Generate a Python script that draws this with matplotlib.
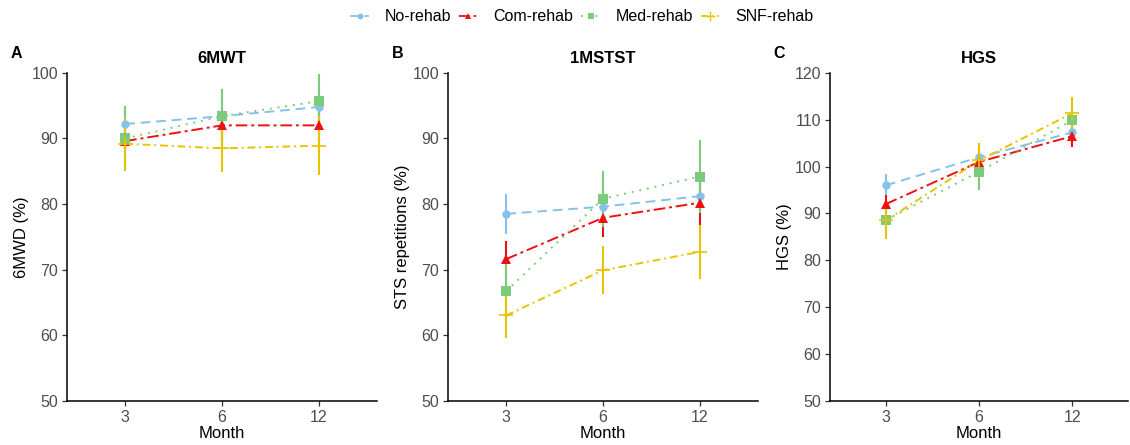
import matplotlib
matplotlib.use("Agg")
import matplotlib.pyplot as plt
from matplotlib.lines import Line2D

months = ["3", "6", "12"]
groups = ["No-rehab", "Com-rehab", "Med-rehab", "SNF-rehab"]
panel_letters = ["A", "B", "C"]
panel_titles = ["6MWT", "1MSTST", "HGS"]
y_labels = ["6MWD (%)", "STS repetitions (%)", "HGS (%)"]

# Means per panel, per group (months 3, 6, 12)
mwt_mean = {
    "No-rehab": [92.2, 93.4, 94.8],
    "Com-rehab": [89.6, 92.0, 92.0],
    "Med-rehab": [90.0, 93.4, 95.7],
    "SNF-rehab": [89.2, 88.5, 88.9],
}
mwt_err = {
    "No-rehab": [2.5, 2.5, 2.5],
    "Com-rehab": [2.2, 2.3, 2.3],
    "Med-rehab": [5.0, 4.2, 4.2],
    "SNF-rehab": [4.0, 3.6, 4.5],
}
sts_mean = {
    "No-rehab": [78.5, 79.6, 81.2],
    "Com-rehab": [71.6, 77.9, 80.2],
    "Med-rehab": [66.7, 80.8, 84.2],
    "SNF-rehab": [63.0, 69.9, 72.7],
}
sts_err = {
    "No-rehab": [3.0, 2.8, 2.6],
    "Com-rehab": [2.7, 2.9, 3.4],
    "Med-rehab": [4.5, 4.3, 5.5],
    "SNF-rehab": [3.4, 3.7, 4.1],
}
hgs_mean = {
    "No-rehab": [96.0, 102.0, 107.3],
    "Com-rehab": [92.0, 101.0, 106.5],
    "Med-rehab": [88.6, 98.9, 109.9],
    "SNF-rehab": [88.5, 101.3, 111.4],
}
hgs_err = {
    "No-rehab": [2.4, 2.3, 2.2],
    "Com-rehab": [1.9, 2.0, 2.3],
    "Med-rehab": [3.0, 3.8, 3.5],
    "SNF-rehab": [4.0, 3.7, 3.5],
}
y_limits = [(50, 100), (50, 100), (50, 120)]
y_ticks = [[50, 60, 70, 80, 90, 100], [50, 60, 70, 80, 90, 100],
           [50, 60, 70, 80, 90, 100, 110, 120]]

colors = {"No-rehab": "#85C1EA", "Com-rehab": "#EE1111",
          "Med-rehab": "#7CCB7C", "SNF-rehab": "#E8C300"}
markers = {"No-rehab": "o", "Com-rehab": "^", "Med-rehab": "s", "SNF-rehab": "+"}
msizes = {"No-rehab": 6, "Com-rehab": 7, "Med-rehab": 6.5, "SNF-rehab": 10}
lstyles = {"No-rehab": (0, (5, 3)), "Com-rehab": (0, (6, 2, 1.5, 2)),
           "Med-rehab": (0, (1, 3)), "SNF-rehab": (0, (4, 2, 1, 2))}

plt.rcParams['font.family'] = ['Liberation Sans', 'DejaVu Sans']

fig = plt.figure(figsize=(11.3, 4.45), dpi=100)
lefts = [0.0593, 0.3965, 0.7345]
width = 0.2743
bottom = 0.0996
height = 0.7365

means = [mwt_mean, sts_mean, hgs_mean]
errs = [mwt_err, sts_err, hgs_err]
xpos = [1, 2, 3]

for i in range(3):
    ax = fig.add_axes([lefts[i], bottom, width if i < 2 else 0.264, height])
    for g in groups:
        ax.errorbar(xpos, means[i][g], yerr=errs[i][g], color=colors[g],
                    linestyle='none', elinewidth=1.5, capsize=0, zorder=2)
    for g in groups:
        ax.plot(xpos, means[i][g], color=colors[g], linestyle=lstyles[g],
                linewidth=1.4, zorder=3)
        ax.plot(xpos, means[i][g], color=colors[g], marker=markers[g],
                markersize=msizes[g], linestyle='none',
                markeredgewidth=1.2 if g == "SNF-rehab" else 0, zorder=4)
    ax.set_xlim(0.4, 3.6)
    ax.set_ylim(*y_limits[i])
    ax.set_yticks(y_ticks[i])
    ax.set_xticks(xpos)
    ax.set_xticklabels(months)
    for s in ["top", "right"]:
        ax.spines[s].set_visible(False)
    for s in ["left", "bottom"]:
        ax.spines[s].set_linewidth(1.1)
        ax.spines[s].set_color("black")
    ax.tick_params(axis='both', direction='out', length=3.5, width=0.9,
                   colors='#333333', labelsize=11.5, labelcolor='#4D4D4D', pad=3)
    ax.set_xlabel("Month", fontsize=12, labelpad=1)
    ax.set_ylabel(y_labels[i], fontsize=12, labelpad=2)
    ax.set_title(panel_titles[i], fontsize=12, fontweight='bold', pad=7)
    fig.text(lefts[i] - 0.05, 0.88, panel_letters[i], fontsize=11.5,
             fontweight='bold', ha='left', va='center')

handles = [Line2D([0], [0], color=colors[g], linestyle=lstyles[g], linewidth=1.3,
                  marker=markers[g], markersize=msizes[g] * 0.7,
                  markeredgewidth=1.0 if g == "SNF-rehab" else 0)
           for g in groups]
fig.legend(handles, groups, loc='center', bbox_to_anchor=(0.515, 0.962), ncol=4,
           frameon=False, fontsize=11.5, handlelength=1.15, columnspacing=0.5,
           handletextpad=1.0)

fig.savefig("out.png", dpi=100)
